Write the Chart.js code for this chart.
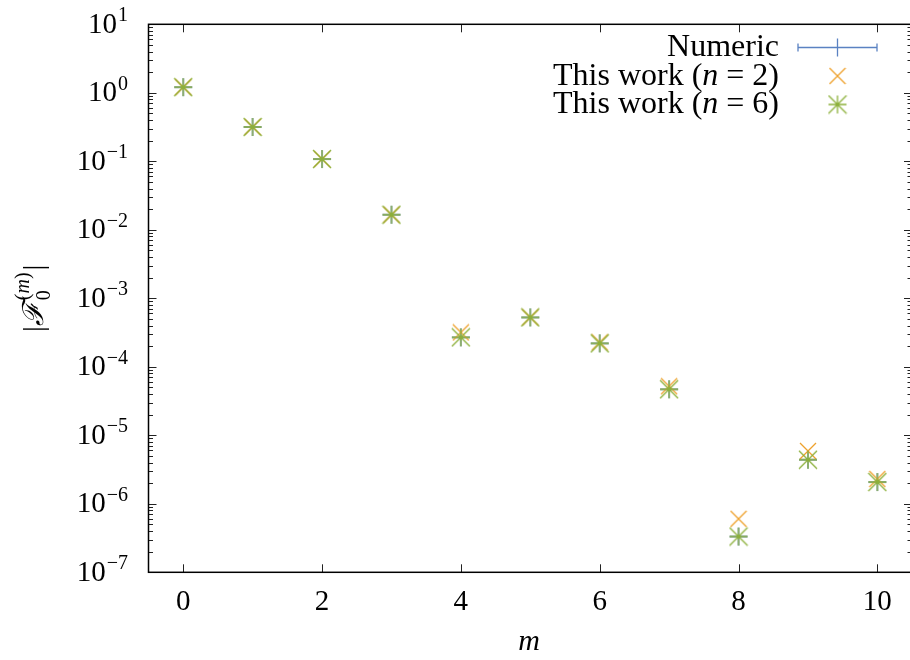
<!DOCTYPE html>
<html>
<head>
<meta charset="utf-8">
<script src="https://cdn.jsdelivr.net/npm/chart.js@4"></script>
<style>
html, body { margin: 0; padding: 0; background: #fff; overflow: hidden; }
canvas { display: block; }
</style>
</head>
<body>
<canvas id="mycanvas" width="910" height="660"></canvas>
<script>
// data
var m = [0, 1, 2, 3, 4, 5, 6, 7, 8, 9, 10];
var numeric = [1.21, 0.317, 0.108, 0.0166, 2.69e-4, 5.26e-4, 2.2e-4, 4.7e-5, 3.33e-7, 4.4e-6, 2.08e-6];
var workN2 = [1.21, 0.317, 0.108, 0.0166, 3.18e-4, 5.26e-4, 2.27e-4, 5.2e-5, 6.03e-7, 5.9e-6, 2.3e-6];
var workN6 = [1.21, 0.317, 0.108, 0.0166, 2.69e-4, 5.26e-4, 2.2e-4, 4.7e-5, 3.33e-7, 4.4e-6, 2.08e-6];
var xTicks = [0, 2, 4, 6, 8, 10];
var yExponents = [1, 0, -1, -2, -3, -4, -5, -6, -7];
var seriesLabels = ['Numeric', 'This work (n = 2)', 'This work (n = 6)'];

var BLUE = '#5a82c2', ORANGE = '#eea22e', GREEN = '#8cb03a';
var SERIF = "'Liberation Serif', 'Times New Roman', serif";

function points(ys) {
  var out = [];
  for (var i in m) out.push({x: m[i], y: ys[i]});
  return out;
}

// gnuplot-like marker images
function marker(kind, color) {
  var c = document.createElement('canvas');
  var s = kind == 'x' ? 18 : 20;
  c.width = s; c.height = s;
  var g = c.getContext('2d');
  g.strokeStyle = color;
  g.lineWidth = 1.3;
  var lo = 1, hi = s - 1, mid = s / 2;
  g.beginPath();
  if (kind == 'plus' || kind == 'star') {
    g.moveTo(lo, mid); g.lineTo(hi, mid);
    g.moveTo(mid, lo); g.lineTo(mid, hi);
  }
  if (kind == 'x' || kind == 'star') {
    g.moveTo(lo, lo); g.lineTo(hi, hi);
    g.moveTo(hi, lo); g.lineTo(lo, hi);
  }
  g.stroke();
  return c;
}
var plusImg = marker('plus', BLUE);
var crossImg = marker('x', ORANGE);
var starImg = marker('star', GREEN);

// split "(n = 2)" so n gets italic
function pieces(label) {
  var k = label.indexOf('(n');
  if (k < 0) return [[label, false]];
  return [[label.slice(0, k + 1), false], ['n', true], [label.slice(k + 2), false]];
}

function drawPieces(ctx, parts, right, y, size) {
  var w = 0, i;
  for (i = 0; i < parts.length; i++) {
    ctx.font = (parts[i][1] ? 'italic ' : '') + size + 'px ' + SERIF;
    w += ctx.measureText(parts[i][0]).width;
  }
  var x = right - w;
  ctx.textAlign = 'left';
  for (i = 0; i < parts.length; i++) {
    ctx.font = (parts[i][1] ? 'italic ' : '') + size + 'px ' + SERIF;
    ctx.fillText(parts[i][0], x, y);
    x += ctx.measureText(parts[i][0]).width;
  }
}

var decorations = {
  id: 'decorations',
  afterDraw: function(chart) {
    var ctx = chart.ctx, a = chart.chartArea;
    var xs = chart.scales.x, ys = chart.scales.y;
    var right = a.right + 2; // the right border sits just past the picture edge
    ctx.save();

    // ticks
    ctx.strokeStyle = '#222';
    ctx.lineWidth = 1;
    ctx.beginPath();
    xTicks.forEach(function(t) {
      var px = Math.round(xs.getPixelForValue(t)) + 0.5;
      ctx.moveTo(px, a.bottom); ctx.lineTo(px, a.bottom - 8);
      ctx.moveTo(px, a.top); ctx.lineTo(px, a.top + 8);
    });
    yExponents.forEach(function(e) {
      var py = Math.round(ys.getPixelForValue(Math.pow(10, e))) + 0.5;
      ctx.moveTo(a.left, py); ctx.lineTo(a.left + 8, py);
      ctx.moveTo(right, py); ctx.lineTo(right - 8, py);
      if (e < 1) {
        for (var j = 2; j <= 9; j++) {
          var my = Math.round(ys.getPixelForValue(j * Math.pow(10, e))) + 0.5;
          ctx.moveTo(a.left, my); ctx.lineTo(a.left + 4.5, my);
          ctx.moveTo(right, my); ctx.lineTo(right - 4.5, my);
        }
      }
    });
    ctx.stroke();

    // frame
    ctx.strokeStyle = '#000';
    ctx.lineWidth = 1.5;
    ctx.strokeRect(a.left, a.top, right - a.left, a.bottom - a.top);

    ctx.fillStyle = '#000';
    ctx.textBaseline = 'alphabetic';

    // x tick labels
    ctx.font = '29px ' + SERIF;
    ctx.textAlign = 'center';
    xTicks.forEach(function(t) {
      ctx.fillText(String(t), xs.getPixelForValue(t), a.bottom + 38);
    });

    // y tick labels 10^e
    yExponents.forEach(function(e) {
      var py = ys.getPixelForValue(Math.pow(10, e));
      var exp = (e < 0 ? '\u2212' : '') + Math.abs(e);
      ctx.font = '20px ' + SERIF;
      var we = ctx.measureText(exp).width;
      ctx.textAlign = 'right';
      ctx.fillText(exp, 128, py - 3);
      ctx.font = '29px ' + SERIF;
      ctx.fillText('10', 128 - we - 1, py + 8.5);
    });

    // x axis title
    ctx.font = 'italic 30px ' + SERIF;
    ctx.textAlign = 'center';
    ctx.fillText('m', 529, 650);

    // y axis title |F_0^(m)|
    ctx.save();
    ctx.translate(43, (a.top + a.bottom) / 2);
    ctx.rotate(-Math.PI / 2);
    ctx.textAlign = 'left';
    ctx.font = '29px ' + SERIF;
    var wBar = ctx.measureText('|').width;
    ctx.font = 'italic 29px ' + SERIF;
    var wF = ctx.measureText('\u2131').width;
    ctx.font = '20px ' + SERIF;
    var wP = ctx.measureText('(').width, wQ = ctx.measureText(')').width, w0 = ctx.measureText('0').width;
    ctx.font = 'italic 20px ' + SERIF;
    var wM = ctx.measureText('m').width;
    var wSup = wP + wM + wQ;
    var total = wBar + wF + 2 + Math.max(wSup, w0) + 2 + wBar;
    var x = -total / 2;
    ctx.font = '29px ' + SERIF;
    ctx.fillText('|', x, 0);
    x += wBar;
    ctx.font = 'italic 29px ' + SERIF;
    ctx.fillText('\u2131', x, 0);
    x += wF + 2;
    ctx.font = '20px ' + SERIF;
    ctx.fillText('0', x, 7);
    ctx.fillText('(', x, -14);
    ctx.font = 'italic 20px ' + SERIF;
    ctx.fillText('m', x + wP, -14);
    ctx.font = '20px ' + SERIF;
    ctx.fillText(')', x + wP + wM, -14);
    x += Math.max(wSup, w0) + 2;
    ctx.font = '29px ' + SERIF;
    ctx.fillText('|', x, 0);
    ctx.restore();

    // legend
    var rowY = [47.5, 76, 104.5];
    var sx = 837.5;
    ctx.fillStyle = '#000';
    seriesLabels.forEach(function(lab, i) {
      drawPieces(ctx, pieces(lab), 779, rowY[i] + 8.5, 32);
    });
    // numeric sample: x error bar with plus
    ctx.strokeStyle = BLUE;
    ctx.lineWidth = 1.3;
    ctx.beginPath();
    ctx.moveTo(798, rowY[0]); ctx.lineTo(877, rowY[0]);
    ctx.moveTo(798, rowY[0] - 4); ctx.lineTo(798, rowY[0] + 4);
    ctx.moveTo(877, rowY[0] - 4); ctx.lineTo(877, rowY[0] + 4);
    ctx.moveTo(sx, rowY[0] - 9); ctx.lineTo(sx, rowY[0] + 9);
    ctx.stroke();
    ctx.drawImage(crossImg, sx - 9, rowY[1] - 9);
    ctx.drawImage(starImg, sx - 10, rowY[2] - 10);

    ctx.restore();
  }
};

var ctx = document.getElementById('mycanvas');
var chart = new Chart(ctx, {
  type: 'scatter',
  data: {
    datasets: [
      { label: seriesLabels[2], data: points(workN6), pointStyle: starImg, pointRadius: 9, order: 1 },
      { label: seriesLabels[1], data: points(workN2), pointStyle: crossImg, pointRadius: 9, order: 2 },
      { label: seriesLabels[0], data: points(numeric), pointStyle: plusImg, pointRadius: 9, order: 3 }
    ]
  },
  options: {
    responsive: false,
    devicePixelRatio: 1,
    animation: false,
    layout: { autoPadding: false, padding: { left: 148.5, top: 24.3, right: 0, bottom: 87.7 } },
    plugins: { legend: { display: false }, tooltip: { enabled: false } },
    scales: {
      x: { type: 'linear', min: -0.5, max: 10.47, display: false },
      y: { type: 'logarithmic', min: 1e-7, max: 10, display: false }
    }
  },
  plugins: [decorations]
});
</script>
</body>
</html>
